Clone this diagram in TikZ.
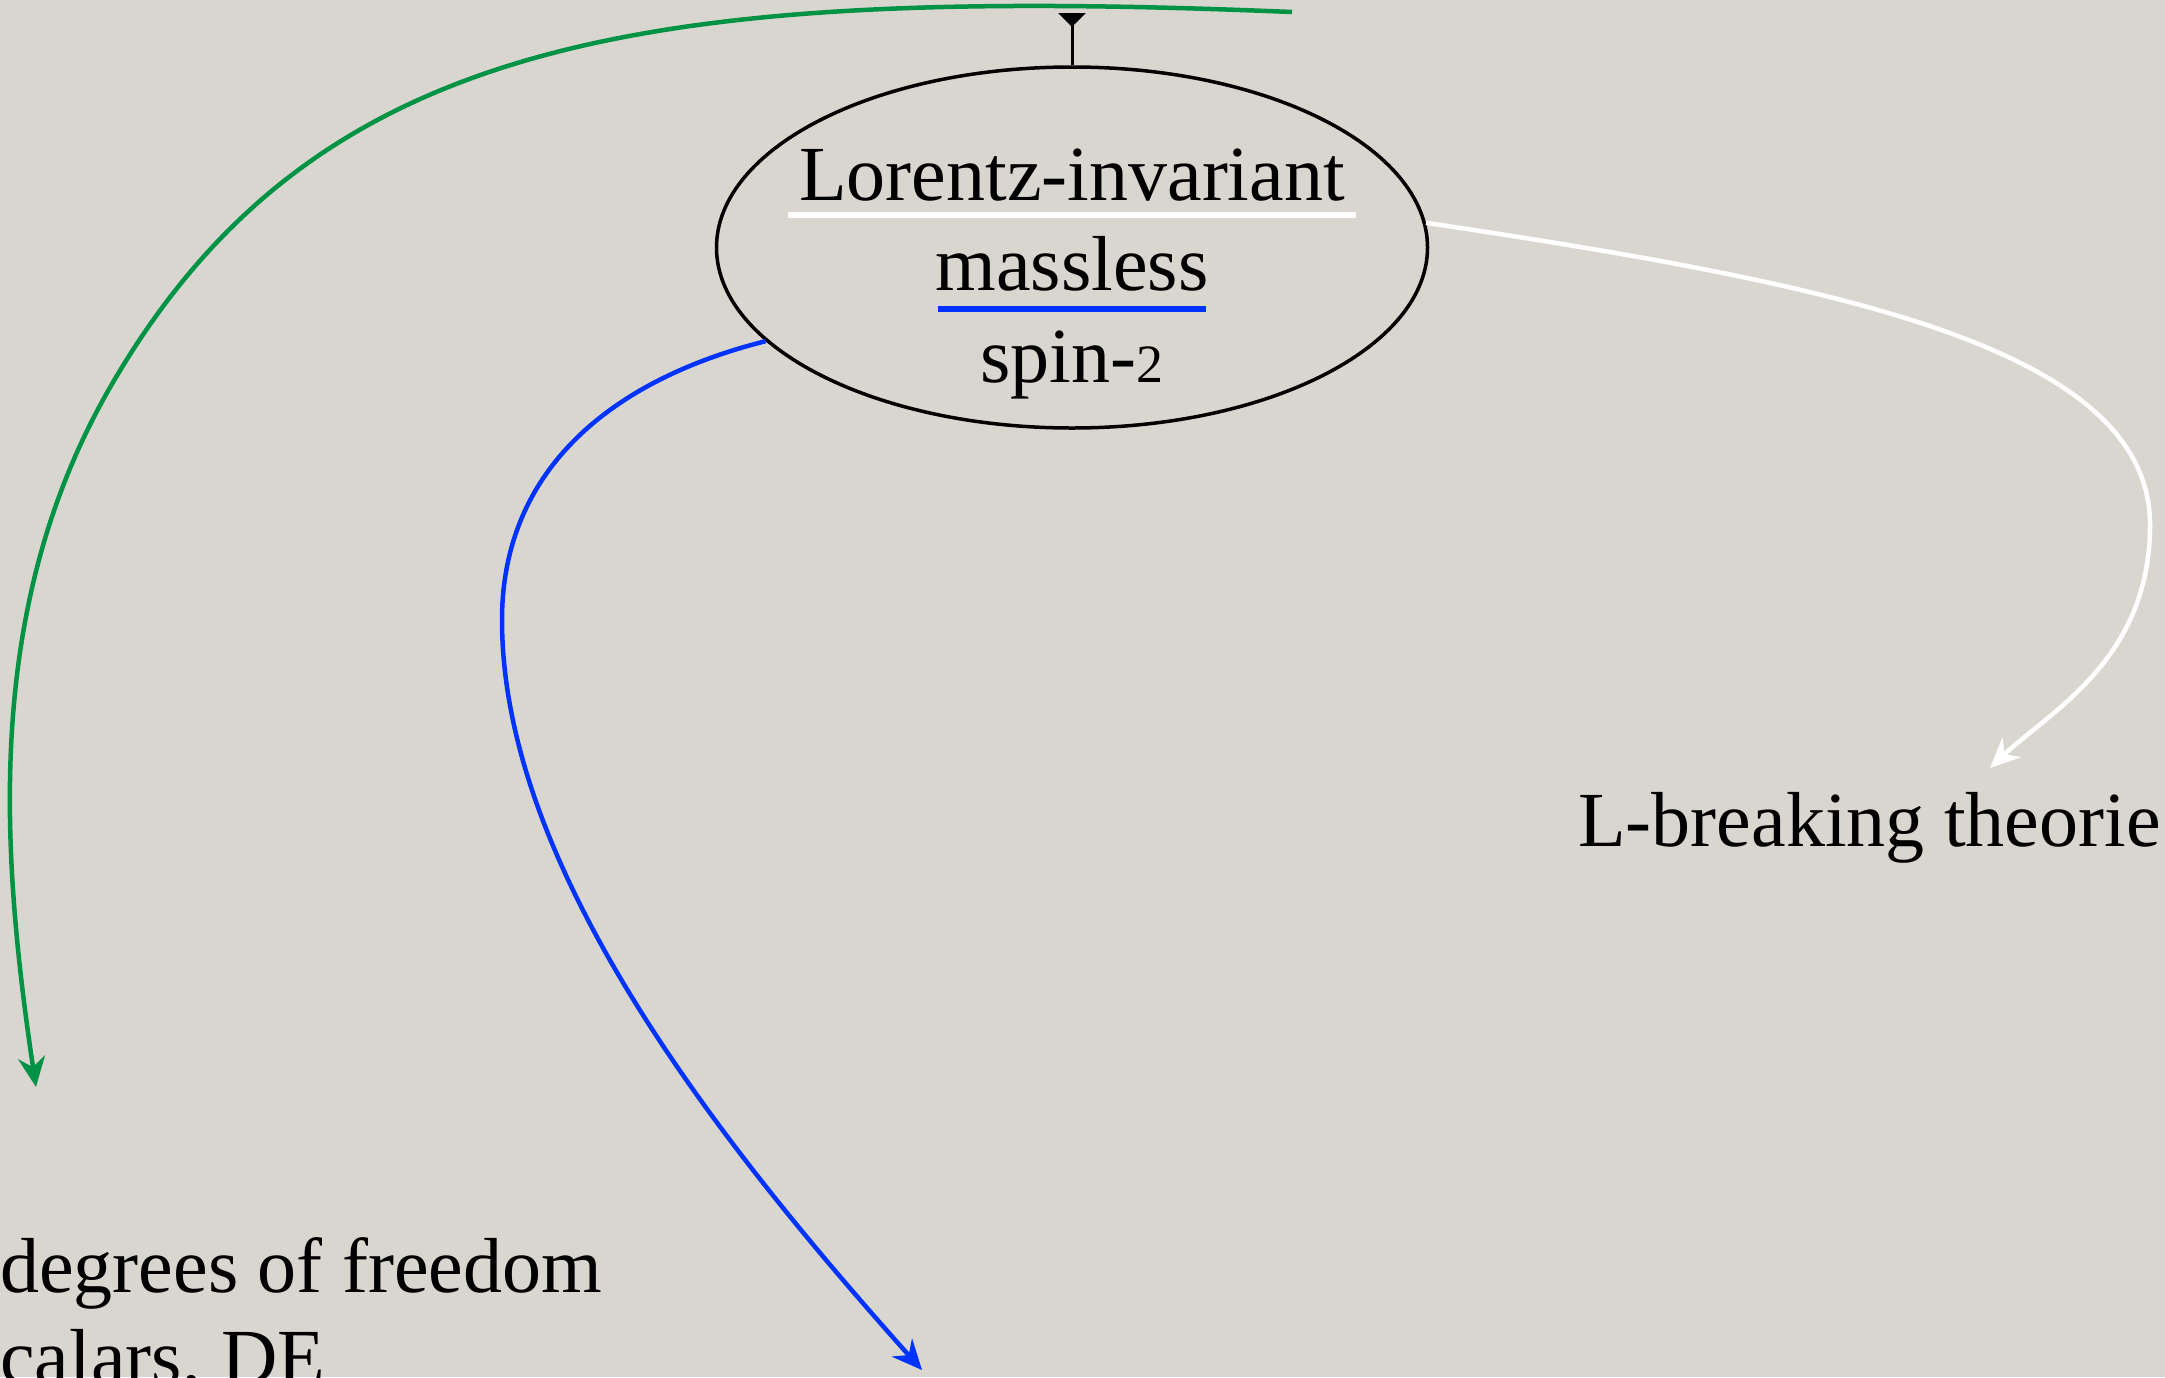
\documentclass[tikz,border=0pt]{standalone}
\usepackage{fontspec}
\setmainfont{Liberation Serif}
\usetikzlibrary{arrows.meta,shapes.geometric}
\definecolor{bgpaper}{RGB}{217,214,208}
\definecolor{kgreen}{RGB}{0,146,69}
\definecolor{kblue}{RGB}{0,51,255}
\begin{document}
\begin{tikzpicture}[x=1pt,y=-1pt,
  lbl/.style={font=\fontsize{78}{90}\selectfont, inner sep=0pt, anchor=base},
  conn/.style={line width=4.5pt},
  arr/.style={-{Stealth[length=30pt,width=27pt,inset=10pt]}},
  uline/.style={line width=5.5pt}]
\fill[bgpaper] (0,0) rectangle (2165,1377);
\useasboundingbox (0,0) rectangle (2165,1377);
\clip (0,0) rectangle (2165,1377);

% central ellipse
\node[ellipse, draw=black, line width=3.5pt, minimum width=711pt, minimum height=361pt, inner sep=0pt] (core) at (1072,247.5) {};
\node[lbl] (t1) at (1072,200) {Lorentz-invariant};
\node[lbl] (t2) at (1072,290) {massless};
\node[lbl] (t3) at (1072,382) {spin-{\fontsize{54}{60}\selectfont 2}};
\draw[white, uline] (788,215) -- (1356,215);
\draw[kblue, uline] (938,309) -- (1206,309);

% other labels
\node[lbl, anchor=base west] (lb) at (1578,846) {L-breaking theorie};
\node[lbl, anchor=base west] (dof) at (0,1292) {degrees of freedom};
\node[lbl, anchor=base west] (sc) at (0,1383) {calars, DE};

% free ends
\coordinate (topend) at (1072,13);
\coordinate (gS) at (1292,12);
\coordinate (gE) at (36,1087);
\coordinate (bE) at (922,1370);
\coordinate (wE) at (1990,768);

% connectors
\draw[line width=3pt, -{Triangle[reversed,length=14pt,width=27pt]}] (core.north) -- (topend);
\draw[kgreen, conn, arr] (gS) .. controls (642,-15) and (314,38) .. (112,384)
   .. controls (-14,600) and (-1,840) .. (gE);
\draw[kblue, conn, arr] (core.197) .. controls (611,380) and (502,470) .. (502,620)
   .. controls (502,870) and (722,1146) .. (bE);
\draw[white, conn, arr] (core.4) .. controls (1827,283) and (2150,345) .. (2150,525)
   .. controls (2150,660) and (2050,711) .. (wE);
\end{tikzpicture}
\end{document}
